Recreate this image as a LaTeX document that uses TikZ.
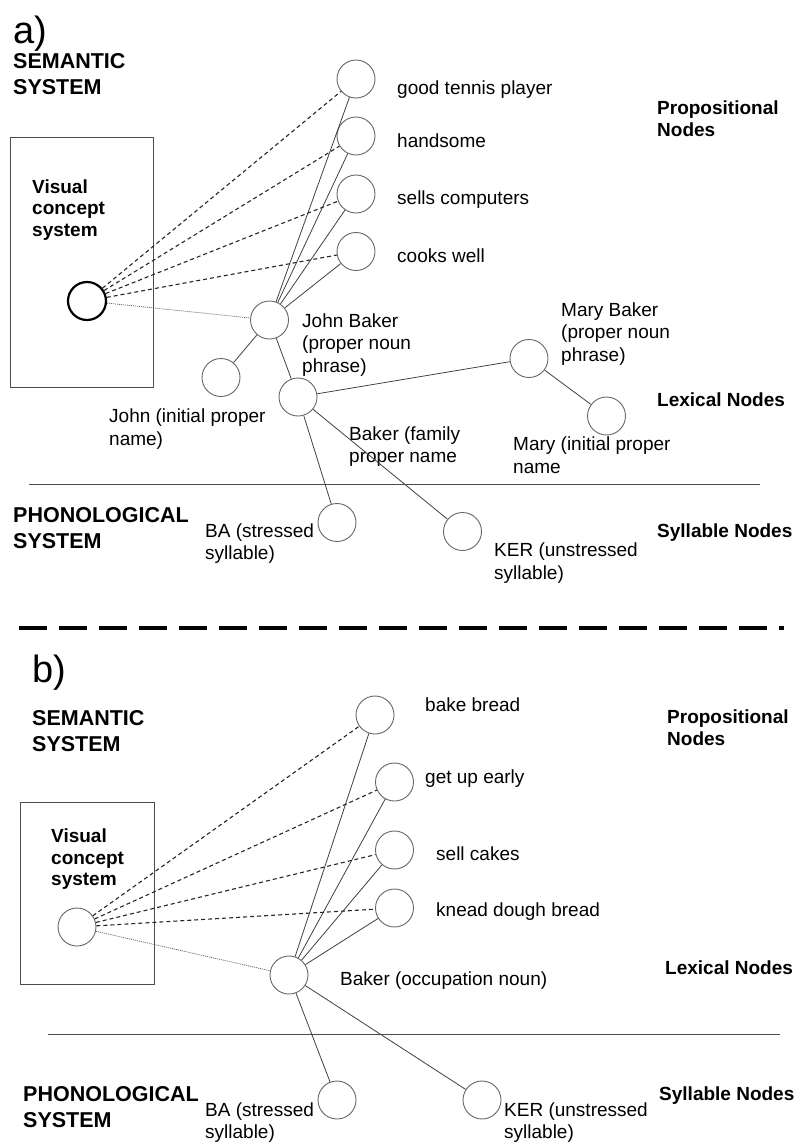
\documentclass[tikz,border=0pt]{standalone}
\usepackage{fontspec}
\setmainfont{Liberation Sans}
\newcommand{\ml}[1]{\begin{tabular}[t]{@{}l@{}}#1\end{tabular}}
\begin{document}
\begin{tikzpicture}[x=1pt,y=-1pt,
  nd/.style={circle,draw=black!60,line width=0.9pt,minimum size=38pt,inner sep=0pt},
  visnd/.style={nd,draw=black,line width=2.2pt},
  lab/.style={anchor=base west,inner sep=0pt,font=\fontsize{19}{22.5}\selectfont},
  blab/.style={anchor=base west,inner sep=0pt,font=\fontsize{19}{22.5}\selectfont\bfseries},
  vlab/.style={anchor=base west,inner sep=0pt,font=\fontsize{19}{21.7}\selectfont\bfseries},
  sys/.style={anchor=base west,inner sep=0pt,font=\fontsize{21.5}{26}\selectfont\bfseries},
  big/.style={anchor=base west,inner sep=0pt,font=\fontsize{38}{40}\selectfont},
  conn/.style={draw=black!75,line width=0.8pt},
  dsh/.style={draw=black!85,line width=1.1pt,dash pattern=on 4pt off 3pt},
  dtt/.style={draw=black!60,line width=0.8pt,dash pattern=on 1pt off 1pt},
  boxst/.style={draw=black!70,line width=1pt,anchor=north west,inner sep=0pt},
  sep/.style={draw=black!70,line width=1pt}
]
\useasboundingbox (0,0) rectangle (795,1146);

% ---------------- panel a ----------------
\node[big] (ta) at (13,43) {a)};
\node[sys] (semA) at (13,68) {\ml{SEMANTIC\\SYSTEM}};
\node[boxst,minimum width=143pt,minimum height=250pt] (boxA) at (10,137) {};
\node[vlab] (visA) at (32,193) {\ml{Visual\\concept\\system}};
\node[visnd] (vA) at (87,301) {};

\node[nd] (pA1) at (356,79) {};
\node[nd] (pA2) at (356,136) {};
\node[nd] (pA3) at (356,194) {};
\node[nd] (pA4) at (356,251.5) {};
\node[lab] (lpA1) at (397,94) {good tennis player};
\node[lab] (lpA2) at (397,147) {handsome};
\node[lab] (lpA3) at (397,204) {sells computers};
\node[lab] (lpA4) at (397,262) {cooks well};
\node[blab] (propA) at (657,114) {\ml{Propositional\\Nodes}};

\node[nd] (jb) at (269.5,320) {};
\node[lab] (ljb) at (302,327) {\ml{John Baker\\(proper noun\\phrase)}};
\node[nd] (john) at (221,377.5) {};
\node[lab] (ljohn) at (109,422.5) {\ml{John (initial proper\\name)}};
\node[nd] (bak) at (298,397) {};
\node[lab] (lbak) at (349,440) {\ml{Baker (family\\proper name}};
\node[nd] (mb) at (529,358.5) {};
\node[lab] (lmb) at (561,316) {\ml{Mary Baker\\(proper noun\\phrase)}};
\node[nd] (mary) at (606.5,416) {};
\node[lab] (lmary) at (513,450.5) {\ml{Mary (initial proper\\name}};
\node[blab] (lexA) at (657,406.5) {Lexical Nodes};

\coordinate (sA1) at (29,484);
\coordinate (sA2) at (760,484);
\draw[sep] (sA1) -- (sA2);

\node[sys] (phA) at (13,522.5) {\ml{PHONOLOGICAL\\SYSTEM}};
\node[nd] (baA) at (337,522.5) {};
\node[lab] (lbaA) at (205,537) {\ml{BA (stressed\\syllable)}};
\node[nd] (kerA) at (462.5,531.5) {};
\node[lab] (lkerA) at (494,556.5) {\ml{KER (unstressed\\syllable)}};
\node[blab] (sylA) at (657,537) {Syllable Nodes};

\foreach \p in {pA1,pA2,pA3,pA4} {
  \draw[dsh] (vA) -- (\p);
  \draw[conn] (jb) -- (\p);
}
\draw[dtt] (vA) -- (jb);
\draw[conn] (jb) -- (john);
\draw[conn] (jb) -- (bak);
\draw[conn] (bak) -- (mb);
\draw[conn] (mb) -- (mary);
\draw[conn] (bak) -- (baA);
\draw[conn] (bak) -- (kerA);

% ---------------- separator ----------------
\coordinate (d1) at (19,628);
\coordinate (d2) at (784,628);
\draw[line width=4pt,black,dash pattern=on 28pt off 12pt] (d1) -- (d2);

% ---------------- panel b ----------------
\node[big] (tb) at (32,682) {b)};
\node[sys] (semB) at (32,725) {\ml{SEMANTIC\\SYSTEM}};
\node[boxst,minimum width=134pt,minimum height=182pt] (boxB) at (20,802) {};
\node[vlab] (visB) at (51,842.5) {\ml{Visual\\concept\\system}};
\node[nd] (vB) at (77,927) {};

\node[nd] (pB1) at (375,715) {};
\node[nd] (pB2) at (394.5,782) {};
\node[nd] (pB3) at (394.5,850) {};
\node[nd] (pB4) at (394.5,908) {};
\node[lab] (lpB1) at (425,711.5) {bake bread};
\node[lab] (lpB2) at (425,783) {get up early};
\node[lab] (lpB3) at (436,860) {sell cakes};
\node[lab] (lpB4) at (436,916.5) {knead dough bread};
\node[blab] (propB) at (667,723) {\ml{Propositional\\Nodes}};

\node[nd] (bkB) at (289,975) {};
\node[lab] (lbkB) at (340,985) {Baker (occupation noun)};
\node[blab] (lexB) at (665,974) {Lexical Nodes};

\coordinate (sB1) at (48,1034);
\coordinate (sB2) at (780,1034);
\draw[sep] (sB1) -- (sB2);

\node[sys] (phB) at (23,1101.5) {\ml{PHONOLOGICAL\\SYSTEM}};
\node[nd] (baB) at (337,1100) {};
\node[lab] (lbaB) at (205,1116) {\ml{BA (stressed\\syllable)}};
\node[nd] (kerB) at (482,1100) {};
\node[lab] (lkerB) at (504,1116) {\ml{KER (unstressed\\syllable)}};
\node[blab] (sylB) at (659,1100.5) {Syllable Nodes};

\foreach \p in {pB1,pB2,pB3,pB4} {
  \draw[dsh] (vB) -- (\p);
  \draw[conn] (bkB) -- (\p);
}
\draw[dtt] (vB) -- (bkB);
\draw[conn] (bkB) -- (baB);
\draw[conn] (bkB) -- (kerB);
\end{tikzpicture}
\end{document}
